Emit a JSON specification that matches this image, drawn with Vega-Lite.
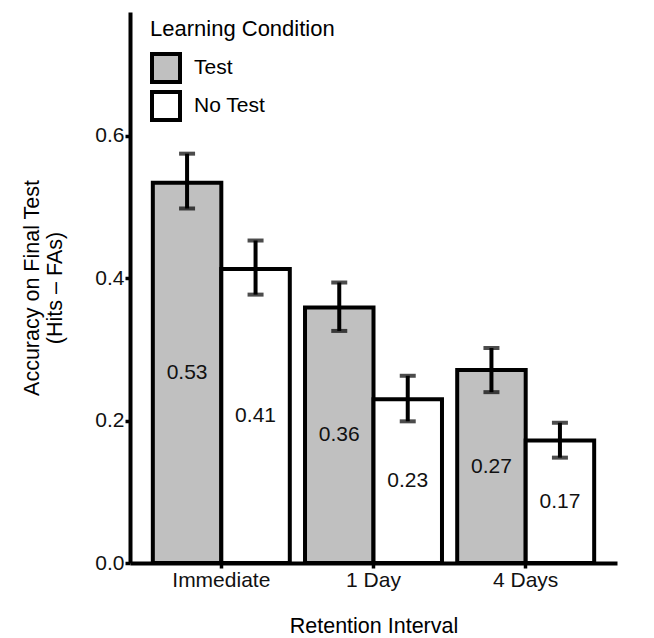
{
  "$schema": "https://vega.github.io/schema/vega-lite/v6.json",
  "width": 487,
  "height": 551,
  "autosize": "none",
  "padding": {"left": 130, "top": 12, "right": 37, "bottom": 75},
  "background": "white",
  "config": {
    "view": {"stroke": null},
    "font": "Liberation Sans",
    "axis": {
      "grid": false,
      "domainColor": "black",
      "domainWidth": 4,
      "tickColor": "black",
      "tickWidth": 3.5,
      "tickSize": 5,
      "labelFontSize": 21,
      "labelColor": "#111111",
      "labelPadding": 1,
      "titleFontSize": 21.5,
      "titleFontWeight": "normal",
      "titleColor": "black"
    },
    "legend": {
      "titleFontSize": 22,
      "titleFontWeight": "normal",
      "titleColor": "black",
      "titleLimit": 400,
      "labelFontSize": 21,
      "labelColor": "black",
      "labelLimit": 300
    }
  },
  "data": {
    "values": [
      {"interval": "Immediate", "condition": "Test", "acc": 0.534, "lo": 0.498, "hi": 0.575},
      {"interval": "Immediate", "condition": "No Test", "acc": 0.413, "lo": 0.377, "hi": 0.453},
      {"interval": "1 Day", "condition": "Test", "acc": 0.359, "lo": 0.326, "hi": 0.394},
      {"interval": "1 Day", "condition": "No Test", "acc": 0.230, "lo": 0.199, "hi": 0.263},
      {"interval": "4 Days", "condition": "Test", "acc": 0.271, "lo": 0.240, "hi": 0.302},
      {"interval": "4 Days", "condition": "No Test", "acc": 0.172, "lo": 0.148, "hi": 0.197}
    ]
  },
  "encoding": {
    "x": {
      "field": "interval",
      "type": "nominal",
      "sort": ["Immediate", "1 Day", "4 Days"],
      "scale": {"paddingInner": 0.1, "paddingOuter": 0.15},
      "axis": {"labelAngle": 0, "title": "Retention Interval", "titlePadding": 25}
    },
    "xOffset": {
      "field": "condition",
      "type": "nominal",
      "sort": ["Test", "No Test"],
      "scale": {"paddingInner": 0, "paddingOuter": 0}
    }
  },
  "layer": [
    {
      "mark": {"type": "bar", "stroke": "black", "strokeWidth": 4},
      "encoding": {
        "y": {
          "field": "acc",
          "type": "quantitative",
          "scale": {"domain": [0, 0.774], "nice": false, "zero": true},
          "axis": {
            "values": [0, 0.2, 0.4, 0.6],
            "format": ".1f",
            "title": ["Accuracy on Final Test", "(Hits – FAs)"],
            "titleLineHeight": 23,
            "titlePadding": 28
          }
        },
        "fill": {
          "field": "condition",
          "type": "nominal",
          "scale": {"domain": ["Test", "No Test"], "range": ["#c0c0c0", "#ffffff"]},
          "legend": {
            "title": "Learning Condition",
            "orient": "none",
            "legendX": 20,
            "legendY": 7,
            "symbolType": "square",
            "symbolSize": 784,
            "symbolStrokeColor": "black",
            "symbolStrokeWidth": 4,
            "rowPadding": -16,
            "labelOffset": 12,
            "titlePadding": 11
          }
        }
      }
    },
    {
      "mark": {"type": "rule", "color": "black", "strokeWidth": 4},
      "encoding": {
        "y": {"field": "lo", "type": "quantitative", "scale": {"domain": [0, 0.774], "nice": false}, "axis": null},
        "y2": {"field": "hi"}
      }
    },
    {
      "mark": {"type": "tick", "color": "black", "size": 16, "thickness": 4},
      "encoding": {
        "y": {"field": "lo", "type": "quantitative", "scale": {"domain": [0, 0.774], "nice": false}, "axis": null}
      }
    },
    {
      "mark": {"type": "tick", "color": "black", "size": 16, "thickness": 4},
      "encoding": {
        "y": {"field": "hi", "type": "quantitative", "scale": {"domain": [0, 0.774], "nice": false}, "axis": null}
      }
    },
    {
      "mark": {"type": "text", "fontSize": 21, "baseline": "middle", "color": "#111111"},
      "encoding": {
        "y": {"field": "acc", "type": "quantitative", "scale": {"domain": [0, 1.548], "nice": false}, "axis": null},
        "text": {"field": "acc", "type": "quantitative", "format": ".2f"}
      }
    }
  ],
  "resolve": {"scale": {"y": "independent"}}
}
